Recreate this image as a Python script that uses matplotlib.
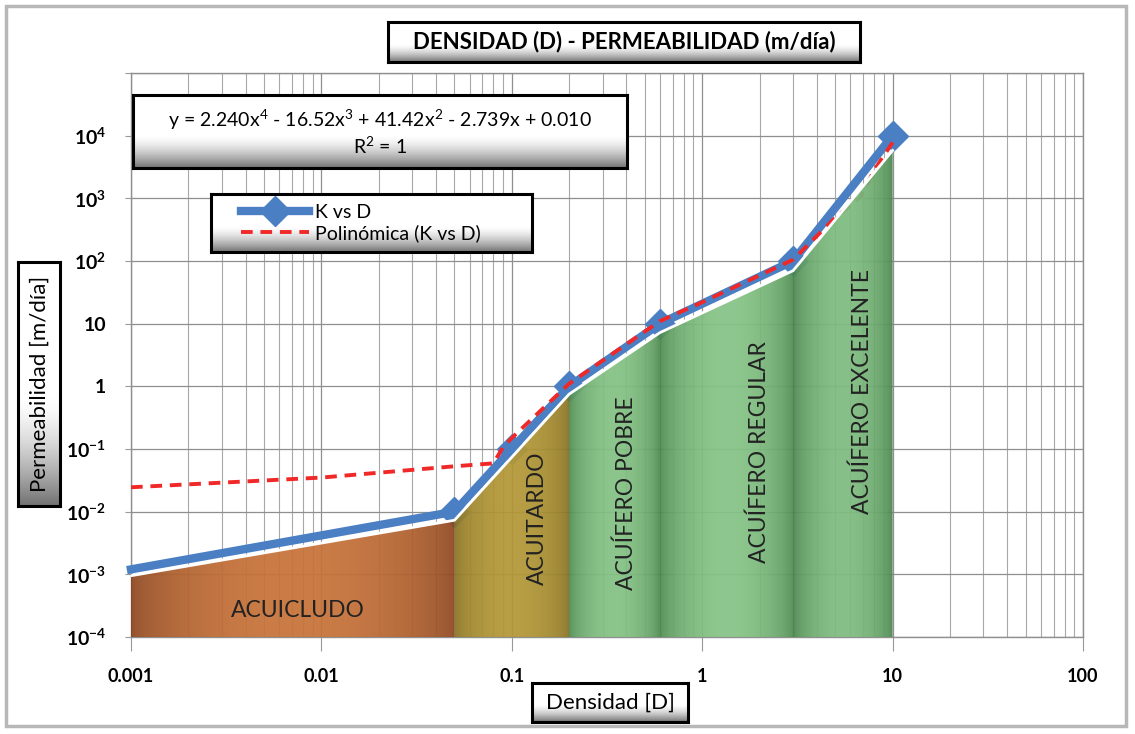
import numpy as np
import matplotlib
matplotlib.use("Agg")
import matplotlib.pyplot as plt
from matplotlib.ticker import LogLocator, FixedLocator, NullFormatter

plt.rcParams['font.family'] = ['Lato', 'DejaVu Sans']
plt.rcParams['mathtext.fontset'] = 'custom'
plt.rcParams['mathtext.rm'] = 'Lato'
plt.rcParams['mathtext.bf'] = 'Lato:bold'

# K vs D (densidad, permeabilidad)
dens = [0.001, 0.05, 0.1, 0.2, 0.6, 3, 10]
perm = [0.0012, 0.01, 0.1, 1, 10, 100, 10000]

# area bajo la curva (zonas)
area_x = [0.001, 0.05, 0.2, 0.6, 3, 10]
area_y = [0.00095, 0.0073, 0.75, 7.2, 70, 5800]

# tendencia polinomica
poly_x = [0.001, 0.01, 0.05, 0.08, 0.09, 0.1, 0.2, 0.6, 1, 3, 5, 6.8, 8, 10]
poly_y = [0.0245, 0.035, 0.053, 0.059, 0.107, 0.15, 1.1, 11, 22, 105, 490, 1060, 2800, 7800]

zonas = ["ACUICLUDO", "ACUITARDO", "ACUÍFERO POBRE", "ACUÍFERO REGULAR", "ACUÍFERO EXCELENTE"]
zona_txt = [(0.0075, 2.6e-4, 0), (0.136, 0.0079, 90), (0.40, 0.020, 90),
            (2.0, 0.089, 90), (6.9, 0.83, 90)]
zona_col = [("#8a4520", "#c8743a"), ("#856f22", "#b39838"), ("#4a864c", "#84c285"),
            ("#4a864c", "#86c487"), ("#46804a", "#7fbc80")]

xticks = [0.001, 0.01, 0.1, 1, 10, 100]
xlabels = ["0.001", "0.01", "0.1", "1", "10", "100"]
yticks = [1e-4, 1e-3, 1e-2, 1e-1, 1, 10, 1e2, 1e3, 1e4]
ylabels = [r"$\mathbf{10^{-4}}$", r"$\mathbf{10^{-3}}$", r"$\mathbf{10^{-2}}$", r"$\mathbf{10^{-1}}$",
           "1", "10", r"$\mathbf{10^{2}}$", r"$\mathbf{10^{3}}$", r"$\mathbf{10^{4}}$"]

W, H = 1135, 734
fig = plt.figure(figsize=(W / 100, H / 100), dpi=100)
fig.patch.set_facecolor("white")

# marco exterior
frame = plt.Rectangle((6 / W, 8 / H), 1120 / W, 720 / H, transform=fig.transFigure,
                      facecolor="none", edgecolor="#b8b8b8", lw=2.5)
fig.patches.append(frame)

ax = fig.add_axes([131 / W, 1 - 637 / H, (1083 - 131) / W, (637 - 73) / H])
ax.set_xscale("log")
ax.set_yscale("log")
ax.set_xlim(0.001, 100)
ax.set_ylim(1e-4, 1e5)
ax.autoscale(False)

ax.xaxis.set_major_locator(FixedLocator(xticks))
ax.xaxis.set_minor_locator(LogLocator(base=10, subs=np.arange(2, 10)))
ax.xaxis.set_minor_formatter(NullFormatter())
ax.set_xticklabels(xlabels, fontweight="bold", fontsize=13)
ax.yaxis.set_major_locator(FixedLocator(yticks + [1e5]))
ax.yaxis.set_minor_locator(FixedLocator([]))
ax.set_yticklabels(ylabels + [""], fontweight="bold", fontsize=14)
ax.tick_params(axis="x", which="major", length=10, pad=12, color="#999999")
ax.tick_params(axis="x", which="minor", length=0)
ax.tick_params(axis="y", length=4, pad=14, color="#999999")
ax.grid(True, which="major", color="#8f8f8f", lw=0.9)
ax.grid(True, which="minor", axis="x", color="#a8a8a8", lw=0.8)
ax.set_axisbelow(True)
for s in ax.spines.values():
    s.set_color("#8f8f8f")
    s.set_linewidth(1)

# zonas con sombreado horizontal
lx0, lx1 = np.log10(0.001), np.log10(100)
for i in range(len(zonas)):
    x0, x1 = area_x[i], area_x[i + 1]
    y0, y1 = area_y[i], area_y[i + 1]
    pg = ax.fill([x0, x0, x1, x1], [1e-4, y0, y1, 1e-4], facecolor="none",
                 edgecolor="none", zorder=4)[0]
    dark, light = [np.array(matplotlib.colors.to_rgb(c)) for c in zona_col[i]]
    t = np.linspace(0, 1, 200)
    w = np.sin(np.pi * t) ** 0.6
    grad = (dark[None, :] * (1 - w[:, None]) + light[None, :] * w[:, None])[None, :, :]
    fx0 = (np.log10(x0) - lx0) / (lx1 - lx0)
    fx1 = (np.log10(x1) - lx0) / (lx1 - lx0)
    im = ax.imshow(grad, extent=[fx0, fx1, 0, 1], transform=ax.transAxes,
                   aspect="auto", alpha=0.94, zorder=4, interpolation="bilinear")
    im.set_clip_path(pg)

ax.plot(area_x, area_y, color="white", lw=2, zorder=4.5)

kline, = ax.plot(dens, perm, color="#4a7fc4", lw=6, marker="D", markersize=15,
                 markevery=list(range(1, len(dens))), zorder=3, clip_on=False,
                 label="K vs D")
pline, = ax.plot(poly_x, poly_y, color="#f02828", lw=2.8, ls=(0, (3, 2)),
                 zorder=3.5, label="Polinómica (K vs D)")

# rotulos de zonas
for nombre, (zx, zy, rot) in zip(zonas, zona_txt):
    ax.text(zx, zy, nombre, ha="center", va="center", rotation=rot, fontsize=16.5,
            color="#222222", zorder=6)


def caja(x0, y0, x1, y1):
    b = fig.add_axes([x0 / W, 1 - y1 / H, (x1 - x0) / W, (y1 - y0) / H])
    g = np.ones(100)
    r = np.linspace(0, 1, 45)
    g[55:] = 1 - 0.55 * r ** 1.5
    rgb = np.repeat(g[:, None, None], 3, axis=2)
    b.imshow(rgb, extent=[0, 1, 0, 1], aspect="auto", interpolation="bilinear")
    b.set_xlim(0, 1)
    b.set_ylim(0, 1)
    b.set_xticks([])
    b.set_yticks([])
    for s in b.spines.values():
        s.set_color("black")
        s.set_linewidth(2.2)
    return b


t = caja(388, 22, 860, 62)
t.text(0.5, 0.52, "DENSIDAD (D) - PERMEABILIDAD (m/día)", ha="center", va="center",
       fontsize=16, fontweight="bold")

e = caja(133, 95, 627, 168)
e.text(0.5, 0.5, "y = 2.240x$^{4}$ - 16.52x$^{3}$ + 41.42x$^{2}$ - 2.739x + 0.010\nR$^{2}$ = 1",
       ha="center", va="center", fontsize=14, linespacing=1.15)

lg = caja(211, 194, 532, 252)
lg.legend(handles=[kline, pline], loc="center left", bbox_to_anchor=(0.07, 0.5),
          frameon=False, fontsize=14, handlelength=3.5, handletextpad=0.3,
          labelspacing=0.15, borderaxespad=0.0)

yl = caja(18, 262, 60, 506)
yl.text(0.52, 0.5, "Permeabilidad [m/día]", ha="center", va="center", rotation=90, fontsize=16)

xl = caja(532, 683, 688, 722)
xl.text(0.5, 0.5, "Densidad [D]", ha="center", va="center", fontsize=16)

fig.savefig("out.png", dpi=100)
